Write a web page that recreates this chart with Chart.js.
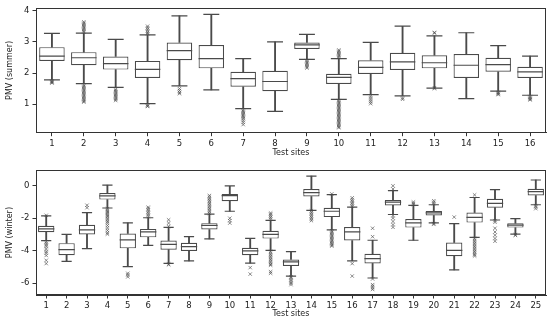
<!DOCTYPE html>
<html><head><meta charset="utf-8">
<script src="https://cdn.jsdelivr.net/npm/chart.js@4/dist/chart.umd.min.js"></script>
<style>html,body{margin:0;padding:0;background:#fff;}canvas{display:block;}</style>
</head><body>
<canvas id="c1" width="550" height="162"></canvas>
<canvas id="c2" width="550" height="161"></canvas>
<script>
// ---------- Summer ----------
const summerSites = ['1','2','3','4','5','6','7','8','9','10','11','12','13','14','15','16'];
const summerLow  = [1.78,1.66,1.54,1.02,1.59,1.46,0.86,0.77,2.44,1.16,1.31,1.27,1.52,1.18,1.42,1.29];
const summerQ1   = [2.39,2.25,2.11,1.84,2.41,2.15,1.56,1.42,2.77,1.65,1.97,2.10,2.15,1.84,2.04,1.84];
const summerMed  = [2.54,2.49,2.30,2.12,2.72,2.46,1.82,1.73,2.90,1.86,2.18,2.36,2.33,2.25,2.27,2.04];
const summerQ3   = [2.83,2.67,2.53,2.39,2.98,2.90,2.04,2.07,2.98,1.98,2.41,2.65,2.57,2.61,2.49,2.20];
const summerHigh = [3.27,3.28,3.08,3.22,3.83,3.88,2.46,3.00,3.24,2.46,2.98,3.50,3.19,3.29,2.88,2.54];
const summerOutliers = [
  [1.74,1.72,1.70,1.68],
  [3.32,3.36,3.40,3.44,3.48,3.52,3.56,3.60,3.64,1.62,1.58,1.54,1.50,1.46,1.42,1.38,1.34,1.30,1.26,1.22,1.18,1.14,1.10,1.07],
  [1.48,1.44,1.40,1.36,1.32,1.28,1.24,1.20,1.16,1.12],
  [3.26,3.30,3.35,3.40,3.45,3.50,0.98,0.95,0.93],
  [1.50,1.44,1.38,1.34],
  [],
  [0.82,0.78,0.74,0.70,0.66,0.62,0.58,0.54,0.48,0.42,0.35],
  [],
  [2.40,2.36,2.32,2.28,2.24,2.20,2.16],
  [2.50,2.54,2.58,2.62,2.66,2.70,2.74,1.12,1.08,1.04,1.00,0.96,0.92,0.88,0.84,0.80,0.76,0.72,0.68,0.64,0.60,0.56,0.52,0.48,0.44,0.40,0.36,0.32,0.28,0.25],
  [1.26,1.20,1.14,1.08,1.02],
  [1.20,1.16],
  [3.28,3.30,1.50,1.53],
  [],
  [1.38,1.36,1.33,1.31],
  [1.25,1.22,1.19,1.16,1.14]
];
const summerTicks = [1,2,3,4];

// ---------- Winter ----------
const winterSites = ['1','2','3','4','5','6','7','8','9','10','11','12','13','14','15','16','17','18','19','20','21','22','23','24','25'];
const winterLow  = [-3.38,-4.67,-3.88,-1.37,-4.99,-3.68,-4.79,-4.63,-3.28,-1.57,-4.77,-3.98,-5.57,-1.51,-2.72,-4.63,-5.69,-1.77,-3.36,-2.29,-5.19,-3.18,-2.11,-2.98,-1.17];
const winterQ1   = [-2.86,-4.29,-3.00,-0.85,-3.86,-3.18,-3.94,-4.02,-2.70,-0.95,-4.29,-3.26,-4.95,-0.66,-1.93,-3.38,-4.79,-1.21,-2.58,-1.83,-4.35,-2.27,-1.35,-2.58,-0.60];
const winterMed  = [-2.66,-3.94,-2.72,-0.62,-3.34,-2.84,-3.62,-3.76,-2.45,-0.60,-4.02,-3.00,-4.69,-0.42,-1.57,-2.84,-4.49,-1.01,-2.29,-1.67,-3.98,-1.95,-1.09,-2.43,-0.36];
const winterQ3   = [-2.47,-3.54,-2.41,-0.44,-2.94,-2.66,-3.38,-3.52,-2.31,-0.50,-3.82,-2.78,-4.55,-0.20,-1.35,-2.54,-4.19,-0.87,-2.05,-1.55,-3.50,-1.65,-0.80,-2.31,-0.18];
const winterHigh = [-1.85,-3.00,-1.65,0.04,-2.29,-1.97,-2.56,-3.14,-1.75,0.00,-3.24,-2.13,-4.06,0.60,-0.54,-1.31,-3.36,-0.30,-1.21,-1.17,-2.33,-0.72,-0.24,-2.03,0.36];
const winterOutliers = [
  [-1.82,-3.45,-3.55,-3.65,-3.75,-3.90,-4.05,-4.15,-4.30,-4.60,-4.80],
  [],
  [-1.20,-1.35],
  [-1.42,-1.50,-1.58,-1.66,-1.74,-1.82,-1.90,-2.00,-2.10,-2.20,-2.30,-2.45,-2.60,-2.75,-2.90,-2.98],
  [-5.40,-5.50,-5.62],
  [-1.90,-1.80,-1.70,-1.60,-1.50,-1.40,-1.32],
  [-2.50,-2.30,-2.10,-4.83,-4.87],
  [],
  [-1.70,-1.60,-1.50,-1.40,-1.30,-1.20,-1.10,-1.00,-0.90,-0.80,-0.70,-0.60],
  [-2.00,-2.15,-2.30],
  [-5.05,-5.45],
  [-2.05,-1.95,-1.85,-1.75,-1.68,-4.05,-4.15,-4.25,-4.35,-4.45,-4.55,-4.65,-4.75,-4.85,-4.90,-5.30,-5.40],
  [-5.62,-5.70,-5.80,-5.90,-6.00,-6.10],
  [-1.55,-1.65,-1.75,-1.85,-1.95,-2.05,-2.15],
  [-0.50,-2.78,-2.86,-2.94,-3.02,-3.10,-3.18,-3.26,-3.34,-3.42,-3.50,-3.58,-3.66,-3.72],
  [-1.25,-1.15,-1.05,-0.95,-0.85,-0.74,-4.80,-5.57],
  [-3.14,-2.62,-5.75,-6.10,-6.20,-6.30,-6.40],
  [-0.20,0.00,-1.85,-2.00,-2.20,-2.40,-2.56],
  [-1.15,-1.08,-1.00],
  [-1.10,-1.02,-0.92,-2.33,-2.38],
  [-1.93],
  [-0.56,-3.25,-3.35,-3.45,-3.55,-3.65,-3.75,-3.85,-3.95,-4.05,-4.15,-4.25,-4.33],
  [-2.15,-2.25,-2.62,-2.85,-3.05,-3.25,-3.42],
  [-3.02,-3.06],
  [-1.22,-1.30,-1.41]
];
const winterTicks = [0,-2,-4,-6];

const LINE = '#4a4a4a';
const AXIS = '#333333';
const TEXT = '#222222';
const FONT = 'DejaVu Sans';

const framePlugin = {
  id: 'frame',
  afterDatasetsDraw(chart) {
    const a = chart.chartArea, ctx = chart.ctx;
    ctx.save();
    ctx.strokeStyle = AXIS; ctx.lineWidth = 1;
    ctx.strokeRect(Math.round(a.left) + 0.5, Math.round(a.top) + 0.5, Math.round(a.right - a.left) - 1, Math.round(a.bottom - a.top) - 1);
    ctx.restore();
  }
};

function catWidth(chart) {
  const s = chart.scales.x;
  return s.width / chart.data.labels.length;
}

function makeChart(id, labels, lo, q1, med, q3, hi, outs, yMin, yMax, yTicks, yTitle, padTop, xHeight) {
  const outlierPts = labels.flatMap((l, i) => outs[i].map(v => ({x: l, y: v})));
  const pointDs = (data, frac, order) => ({
    type: 'line', data, showLine: false, order,
    pointStyle: 'line',
    pointRadius: c => catWidth(c.chart) * frac,
    pointHoverRadius: c => catWidth(c.chart) * frac,
    pointBorderColor: LINE, pointBackgroundColor: LINE, pointBorderWidth: 1.2
  });
  new Chart(document.getElementById(id), {
    type: 'bar',
    data: {
      labels,
      datasets: [
        { type: 'line', data: outlierPts, showLine: false, order: 0,
          pointStyle: 'crossRot', pointRadius: 2.4, pointHoverRadius: 2.4,
          pointBorderColor: 'rgba(70,70,70,0.7)', pointBackgroundColor: 'rgba(0,0,0,0)', pointBorderWidth: 0.9 },
        pointDs(med, 0.4, 1),
        pointDs(lo, 0.25, 1),
        pointDs(hi, 0.25, 1),
        { type: 'bar', data: labels.map((_, i) => [q1[i], q3[i]]), order: 2, grouped: false,
          backgroundColor: '#ffffff', borderColor: LINE, borderWidth: 1.2, borderSkipped: false,
          barPercentage: 0.8, categoryPercentage: 1.0 },
        { type: 'bar', data: labels.map((_, i) => [lo[i], q1[i]]), order: 3, grouped: false,
          backgroundColor: LINE, borderWidth: 0, barThickness: 1.2 },
        { type: 'bar', data: labels.map((_, i) => [q3[i], hi[i]]), order: 3, grouped: false,
          backgroundColor: LINE, borderWidth: 0, barThickness: 1.2 }
      ]
    },
    options: {
      responsive: false, animation: false, devicePixelRatio: 1,
      layout: { padding: { top: padTop, right: 4, left: 0, bottom: 0 } },
      plugins: { legend: { display: false }, tooltip: { enabled: false } },
      scales: {
        x: {
          type: 'category', offset: true,
          grid: { offset: false, drawOnChartArea: false, drawTicks: true, tickLength: 3.5, color: AXIS },
          border: { display: true, color: AXIS },
          ticks: { color: TEXT, font: { family: FONT, size: 8.5 }, padding: 2, autoSkip: false, maxRotation: 0 },
          title: { display: true, text: 'Test sites', color: TEXT, font: { family: FONT, size: 8 }, padding: { top: 2, bottom: 4 } },
          afterFit: s => { s.height = xHeight; }
        },
        y: {
          type: 'linear', min: yMin, max: yMax,
          afterBuildTicks: s => { s.ticks = yTicks.map(v => ({ value: v })); },
          grid: { drawOnChartArea: false, drawTicks: true, tickLength: 3.5, color: AXIS },
          border: { display: true, color: AXIS },
          ticks: { color: TEXT, font: { family: FONT, size: 8.5 }, padding: 3 },
          title: { display: true, text: yTitle, color: TEXT, font: { family: FONT, size: 8 }, padding: { top: 5, bottom: 2 } },
          afterFit: s => { s.width = 36; }
        }
      }
    },
    plugins: [framePlugin]
  });
}

makeChart('c1', summerSites, summerLow, summerQ1, summerMed, summerQ3, summerHigh, summerOutliers,
  0.09, 4.08, summerTicks, 'PMV (summer)', 4.7, 29.3);
makeChart('c2', winterSites, winterLow, winterQ1, winterMed, winterQ3, winterHigh, winterOutliers,
  -6.74, 0.97, winterTicks, 'PMV (winter)', 5.3, 28);
</script>
</body></html>
